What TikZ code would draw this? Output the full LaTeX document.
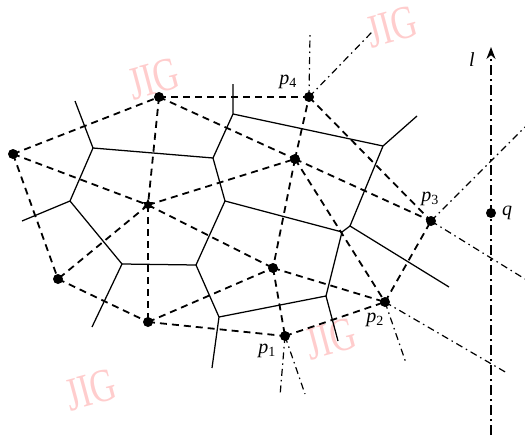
\documentclass[tikz,border=0pt]{standalone}
\usepackage{fontspec}
\setmainfont{Liberation Serif}
\usetikzlibrary{arrows.meta,shapes.geometric}
\definecolor{wm}{RGB}{255,205,205}
\begin{document}
\begin{tikzpicture}[x=1pt,y=-1pt,
  site/.style={circle,fill,inner sep=0pt,minimum size=10pt},
  starsite/.style={star,star points=6,star point ratio=1.8,fill,inner sep=0pt,minimum size=12pt},
  vor/.style={line width=1.25pt},
  del/.style={line width=1.8pt,dash pattern=on 7pt off 5pt},
  ray/.style={line width=1.2pt,dash pattern=on 7pt off 4pt on 1.5pt off 4pt},
  lline/.style={line width=2.8pt,dash pattern=on 10pt off 4pt on 2pt off 4pt},
  lab/.style={font=\fontsize{20}{22}\selectfont},
  wmark/.style={text=wm,font=\fontsize{47}{47}\selectfont,rotate=15,xscale=0.75,inner sep=0pt}]
\useasboundingbox (0,0) rectangle (525,439);
% watermarks
\node[wmark] (w1) at (154,79) {JIG};
\node[wmark] (w2) at (392,27) {JIG};
\node[wmark] (w3) at (331,339) {JIG};
\node[wmark] (w4) at (91,390) {JIG};
% sites
\node[site] (A) at (13,154) {};
\node[site] (B) at (159,97) {};
\node[starsite] (C) at (148,205) {};
\node[site] (D) at (58,279) {};
\node[site] (E) at (148,322) {};
\node[site] (P4) at (309,97) {};
\node[site] (F) at (295,159) {};
\node[site] (G) at (273,268) {};
\node[site] (P1) at (285,336) {};
\node[site] (P2) at (385,302) {};
\node[site] (P3) at (431,221) {};
\node[site] (Q) at (491,213) {};
% Voronoi vertices
\coordinate (V1) at (93,148);
\coordinate (V2) at (213,158);
\coordinate (V3) at (233,114);
\coordinate (V4) at (70,201);
\coordinate (V5) at (225,201);
\coordinate (V6) at (122,264);
\coordinate (V7) at (196,265);
\coordinate (V8) at (219,317);
\coordinate (V9) at (326,296);
\coordinate (V10) at (342,232);
\coordinate (V11) at (350,226);
\coordinate (V12) at (383,146);
\coordinate (R1) at (75,101);
\coordinate (R2) at (233,84);
\coordinate (R3) at (417,116);
\coordinate (R4) at (22,221);
\coordinate (R5) at (92,327);
\coordinate (R6) at (212,368);
\coordinate (R7) at (338,341);
\coordinate (R8) at (449,287);
% Voronoi edges
\draw[vor] (R1) -- (V1) -- (V2) -- (V3) -- (R2);
\draw[vor] (V1) -- (V4) -- (R4);
\draw[vor] (V4) -- (V6) -- (R5);
\draw[vor] (V6) -- (V7) -- (V5) -- (V2);
\draw[vor] (V7) -- (V8) -- (R6);
\draw[vor] (V8) -- (V9) -- (R7);
\draw[vor] (V9) -- (V10) -- (V5);
\draw[vor] (V10) -- (V11) -- (R8);
\draw[vor] (V11) -- (V12) -- (R3);
\draw[vor] (V3) -- (V12);
% Delaunay edges
\foreach \u/\v in {A/B,A/C,A/D,B/C,B/P4,B/F,C/F,C/D,C/E,C/G,D/E,E/G,E/P1,F/P4,F/G,F/P2,F/P3,P4/P3,G/P1,G/P2,P1/P2,P2/P3}
  \draw[del] (\u.center) -- (\v.center);
% rays
\coordinate (S1) at (310,35);
\coordinate (S2) at (372,32);
\coordinate (S3) at (525,127);
\coordinate (S4) at (525,279);
\coordinate (S5) at (507,373);
\coordinate (S6) at (406,363);
\coordinate (S7) at (280,396);
\coordinate (S8) at (305,394);
\draw[ray] (P4.center) -- (S1);
\draw[ray] (P4.center) -- (S2);
\draw[ray] (P3.center) -- (S3);
\draw[ray] (P3.center) -- (S4);
\draw[ray] (P2.center) -- (S5);
\draw[ray] (P2.center) -- (S6);
\draw[ray] (P1.center) -- (S7);
\draw[ray] (P1.center) -- (S8);
% line l
\coordinate (L0) at (491,435);
\coordinate (L1) at (491,47);
\draw[lline,-{Stealth[length=12pt,width=9pt]}] (L0) -- (L1);
% labels
\node[lab] (lp4) at (288,82) {\textit{p}\textsubscript{4}};
\node[lab] (lp3) at (430,199) {\textit{p}\textsubscript{3}};
\node[lab] (lp2) at (375,320) {\textit{p}\textsubscript{2}};
\node[lab] (lp1) at (267,351) {\textit{p}\textsubscript{1}};
\node[lab] (lq) at (507,213) {\textit{q}};
\node[lab] (ll) at (472,60) {\textit{l}};
\end{tikzpicture}
\end{document}
